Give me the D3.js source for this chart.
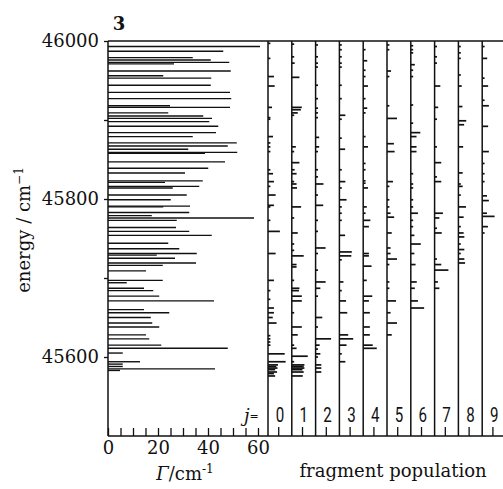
<!DOCTYPE html>
<html>
<head>
<meta charset="utf-8">
<script src="https://cdn.jsdelivr.net/npm/d3@7"></script>
<style>
body { margin: 0; background: #fff; }
#chart { width: 503px; height: 489px; }
</style>
</head>
<body>
<div id="chart"></div>
<script>
// resonance positions (cm-1) and widths Gamma (cm-1), left panel
var energies = [45993, 45987, 45979, 45976, 45973, 45971, 45962, 45956, 45953, 45944,
    45935, 45927, 45918, 45916, 45909, 45905, 45902, 45898, 45892, 45884,
    45879, 45871, 45867, 45863, 45859, 45858, 45847, 45839, 45833, 45823,
    45821, 45816, 45814, 45805, 45799, 45791, 45790, 45783, 45779, 45776,
    45773, 45764, 45759, 45754, 45744, 45737, 45731, 45729, 45725, 45719,
    45716, 45709, 45697, 45694, 45687, 45684, 45677, 45671, 45660, 45656,
    45650, 45643, 45638, 45628, 45623, 45615, 45611, 45605, 45594, 45591,
    45588, 45585, 45583];
var widths = [60.8, 46.1, 33.9, 41.1, 48.5, 26.4, 49.1, 22.1, 41.3, 41.1,
    48.8, 49.3, 24.8, 48.8, 24.1, 38.1, 41.6, 40.5, 44.1, 43.2,
    33.9, 51.5, 47.9, 32.1, 51.7, 38.8, 46.8, 40.1, 30.8, 37.9,
    22.8, 36.5, 25.9, 31.5, 25.1, 32.8, 22.1, 32.5, 17.5, 58.4,
    27.5, 27.2, 32.5, 41.5, 24.1, 28.5, 35.5, 19.5, 26.8, 35.2,
    21.9, 15.2, 21.9, 7.5, 14.4, 18.1, 20.5, 42.4, 14.4, 24.5,
    17.1, 17.7, 20.5, 15.2, 16.5, 21.3, 47.9, 5.9, 12.8, 5.9,
    5.9, 42.8, 4.8];

// fragment population per j: [energy, population]
var pop0 = [[45997,.1],[45978,.1],[45955,.25],[45943,.28],[45916,.17],[45903,.1],[45901,.1],[45879,.21],[45871,.1],[45866,.1],[45860,.1],[45837,.1],[45832,.21],[45822,.25],[45816,.1],[45805,.32],[45792,.25],[45790,.1],[45773,.1],[45759,.5],[45731,.32],[45697,.25],[45684,.1],[45673,.1],[45662,.25],[45656,.25],[45650,.2],[45643,.36],[45627,.1],[45623,.1],[45619,.1],[45615,.1],[45604,.7],[45594,.74],[45590,.42],[45588,.35],[45586,.4],[45584,.3],[45581,.38],[45579,.25],[45576,.3]];
var pop1 = [[45996,.1],[45980,.1],[45972,.12],[45954,.32],[45916,.42],[45913,.38],[45909,.25],[45906,.1],[45866,.17],[45860,.1],[45846,.32],[45837,.12],[45832,.2],[45822,.1],[45819,.2],[45814,.22],[45790,.39],[45776,.1],[45757,.25],[45743,.1],[45735,.1],[45728,.5],[45717,.2],[45714,.2],[45697,.1],[45687,.32],[45684,.3],[45677,.42],[45671,.42],[45656,.1],[45638,.42],[45628,.25],[45615,.1],[45611,.2],[45601,.67],[45594,.1],[45590,.53],[45588,.5],[45586,.53],[45584,.45],[45581,.5],[45576,.46]];
var pop2 = [[45995,.1],[45980,.1],[45972,.1],[45967,.1],[45944,.1],[45927,.1],[45915,.1],[45909,.1],[45903,.1],[45878,.15],[45866,.15],[45860,.1],[45837,.1],[45828,.1],[45819,.33],[45805,.1],[45792,.32],[45773,.1],[45759,.1],[45738,.42],[45731,.1],[45710,.1],[45695,.42],[45687,.2],[45677,.1],[45650,.28],[45638,.1],[45623,.65],[45615,.17],[45610,.1],[45604,.2],[45600,.1],[45590,.24],[45586,.24],[45581,.24]];
var pop3 = [[45995,.1],[45989,.1],[45980,.1],[45972,.1],[45967,.1],[45944,.1],[45927,.1],[45906,.25],[45901,.1],[45877,.1],[45863,.24],[45837,.1],[45822,.25],[45814,.1],[45799,.3],[45790,.1],[45782,.1],[45773,.1],[45754,.24],[45733,.52],[45728,.5],[45723,.1],[45695,.17],[45684,.1],[45671,.28],[45656,.33],[45628,.37],[45623,.58],[45615,.3],[45604,.1],[45594,.25]];
var pop4 = [[45989,.1],[45975,.17],[45963,.1],[45955,.1],[45943,.2],[45927,.1],[45915,.17],[45909,.1],[45879,.1],[45866,.2],[45845,.1],[45837,.1],[45823,.1],[45820,.1],[45814,.2],[45790,.15],[45782,.1],[45773,.3],[45765,.24],[45731,.24],[45728,.24],[45715,.35],[45697,.15],[45677,.38],[45671,.24],[45656,.28],[45638,.28],[45628,.28],[45615,.4],[45611,.57]];
var pop5 = [[45995,.1],[45989,.1],[45962,.17],[45955,.1],[45918,.1],[45902,.42],[45870,.29],[45860,.32],[45822,.25],[45816,.1],[45799,.1],[45790,.1],[45782,.15],[45777,.3],[45757,.2],[45738,.15],[45731,.15],[45724,.42],[45717,.1],[45695,.1],[45687,.1],[45671,.38],[45656,.15],[45643,.42],[45628,.2]];
var pop6 = [[45994,.1],[45989,.1],[45985,.1],[45970,.17],[45963,.1],[45955,.1],[45919,.1],[45896,.1],[45884,.4],[45879,.24],[45866,.24],[45860,.24],[45832,.1],[45819,.1],[45814,.1],[45799,.1],[45790,.1],[45782,.3],[45773,.1],[45765,.1],[45754,.15],[45743,.42],[45731,.15],[45717,.2],[45695,.25],[45687,.17],[45671,.3],[45662,.56]];
var pop7 = [[45993,.1],[45980,.1],[45972,.1],[45943,.24],[45916,.15],[45901,.1],[45866,.1],[45846,.28],[45828,.1],[45822,.28],[45782,.35],[45776,.2],[45763,.1],[45757,.3],[45724,.1],[45717,.28],[45710,.58],[45695,.14],[45687,.2]];
var pop8 = [[45993,.1],[45985,.1],[45978,.1],[45957,.1],[45943,.14],[45917,.17],[45899,.33],[45894,.24],[45866,.2],[45833,.18],[45819,.1],[45816,.18],[45805,.1],[45790,.32],[45777,.22],[45765,.1],[45757,.22],[45752,.25],[45743,.1],[45736,.25],[45731,.1],[45724,.25],[45719,.28]];
var pop9 = [[45993,.1],[45978,.21],[45953,.1],[45943,.25],[45925,.1],[45918,.28],[45892,.25],[45860,.28],[45845,.1],[45832,.1],[45822,.1],[45804,.2],[45798,.28],[45782,.2],[45778,.52],[45765,.24],[45757,.1]];
var populations = [pop0, pop1, pop2, pop3, pop4, pop5, pop6, pop7, pop8, pop9];

var jLabels = ["0", "1", "2", "3", "4", "5", "6", "7", "8", "9"];
var energyTicks = [45600, 45700, 45800, 45900, 46000];
var energyLabels = [45600, 45800, 46000];
var gammaTicks = d3.range(0, 61, 5);
var gammaLabels = [0, 20, 40, 60];

var serif = "'DejaVu Serif', serif";

var chartDiv = document.getElementById("chart");
var width = 503, height = 489;

var svg = d3.select(chartDiv).append("svg")
    .attr("width", width)
    .attr("height", height)
    .style("font-family", serif);

var yTop = 41, yBottom = 436;

var y = d3.scaleLinear().domain([45500, 46000]).range([yBottom, yTop]);
var x = d3.scaleLinear().domain([0, 64]).range([108, 268]);
var panelX = d3.scaleLinear().domain([0, 10]).range([268, 506]);
var pop = d3.scaleLinear().domain([0, 1]).range([0, 23.8]);

// frame
svg.append("line")
    .attr("x1", x(0)).attr("x2", width)
    .attr("y1", yTop).attr("y2", yTop)
    .attr("stroke", "#111").attr("stroke-width", 1.5);
svg.append("line")
    .attr("x1", x(0)).attr("x2", width)
    .attr("y1", yBottom).attr("y2", yBottom)
    .attr("stroke", "#111").attr("stroke-width", 1.6);
svg.append("line")
    .attr("x1", x(0)).attr("x2", x(0))
    .attr("y1", yTop).attr("y2", yBottom)
    .attr("stroke", "#111").attr("stroke-width", 1.5);

// energy axis
var yAxis = d3.axisLeft(y)
    .tickValues(energyTicks)
    .tickSize(4)
    .tickPadding(5)
    .tickFormat(function(d) { return energyLabels.indexOf(d) >= 0 ? d : ""; });
var gy = svg.append("g")
    .attr("transform", "translate(" + x(0) + ",0)")
    .call(yAxis);
gy.select(".domain").remove();
gy.selectAll("line").attr("stroke", "#111").attr("stroke-width", 1.3);
gy.selectAll("text")
    .style("font-family", serif)
    .style("font-size", "18px")
    .attr("fill", "#111");

// Gamma axis (ticks point inward)
var xAxis = d3.axisBottom(x)
    .tickValues(gammaTicks)
    .tickSize(-8)
    .tickPadding(4)
    .tickFormat(function(d) { return gammaLabels.indexOf(d) >= 0 ? d : ""; });
var gx = svg.append("g")
    .attr("transform", "translate(0," + yBottom + ")")
    .call(xAxis);
gx.select(".domain").remove();
gx.selectAll("line").attr("stroke", "#111").attr("stroke-width", 1.3);
gx.selectAll("text")
    .attr("y", 5)
    .style("font-family", serif)
    .style("font-size", "18px")
    .attr("fill", "#111");

// Gamma bars
var bars = energies.map(function(e, i) { return {e: e, w: widths[i]}; });
svg.append("g").selectAll("line")
    .data(bars)
    .enter().append("line")
    .attr("x1", x(0))
    .attr("x2", function(d) { return x(d.w); })
    .attr("y1", function(d) { return y(d.e); })
    .attr("y2", function(d) { return y(d.e); })
    .attr("stroke", "#111")
    .attr("stroke-width", 1.4);

// fragment population panels
var panels = svg.append("g").selectAll("g")
    .data(populations)
    .enter().append("g")
    .attr("transform", function(d, j) { return "translate(" + panelX(j) + ",0)"; });

panels.append("line")
    .attr("x1", 0).attr("x2", 0)
    .attr("y1", yTop).attr("y2", yBottom)
    .attr("stroke", "#111").attr("stroke-width", 1.5);

panels.append("line")
    .attr("x1", pop(0.45)).attr("x2", pop(0.45))
    .attr("y1", yBottom - 9).attr("y2", yBottom)
    .attr("stroke", "#111").attr("stroke-width", 1.3);

panels.selectAll(".p")
    .data(function(d) { return d; })
    .enter().append("line")
    .attr("class", "p")
    .attr("x1", 0)
    .attr("x2", function(d) { return pop(d[1]); })
    .attr("y1", function(d) { return y(d[0]); })
    .attr("y2", function(d) { return y(d[0]); })
    .attr("stroke", "#111")
    .attr("stroke-width", 1.7);

panels.append("text")
    .attr("transform", "translate(12,422) scale(0.72,1)")
    .attr("text-anchor", "middle")
    .style("font-family", "Roboto, sans-serif")
    .style("font-weight", 400)
    .style("font-size", "21px")
    .attr("fill", "#111")
    .text(function(d, j) { return jLabels[j]; });

// j= label
var jl = svg.append("text")
    .attr("x", 244).attr("y", 422)
    .style("font-size", "18px")
    .attr("fill", "#111");
jl.append("tspan").style("font-style", "italic").text("j");
jl.append("tspan").style("font-size", "11px").attr("dy", -2).text("=");

// panel number
svg.append("text")
    .attr("x", 119).attr("y", 30)
    .attr("text-anchor", "middle")
    .style("font-size", "18px")
    .style("font-weight", "bold")
    .attr("fill", "#111")
    .text("3");

// axis titles
var ylab = svg.append("text")
    .attr("transform", "translate(30,230) rotate(-90)")
    .attr("text-anchor", "middle")
    .style("font-size", "18px")
    .attr("fill", "#111");
ylab.append("tspan").text("energy / cm");
ylab.append("tspan").attr("dy", -7).style("font-size", "12px").text("\u22121");

var xlab = svg.append("text")
    .attr("x", 185).attr("y", 480)
    .attr("text-anchor", "middle")
    .style("font-size", "18px")
    .attr("fill", "#111");
xlab.append("tspan").style("font-style", "italic").text("\u0393");
xlab.append("tspan").text("/cm");
xlab.append("tspan").attr("dy", -7).style("font-size", "12px").text("-1");

svg.append("text")
    .attr("x", 393).attr("y", 477)
    .attr("text-anchor", "middle")
    .style("font-size", "18px")
    .attr("fill", "#111")
    .text("fragment population");
</script>
</body>
</html>
